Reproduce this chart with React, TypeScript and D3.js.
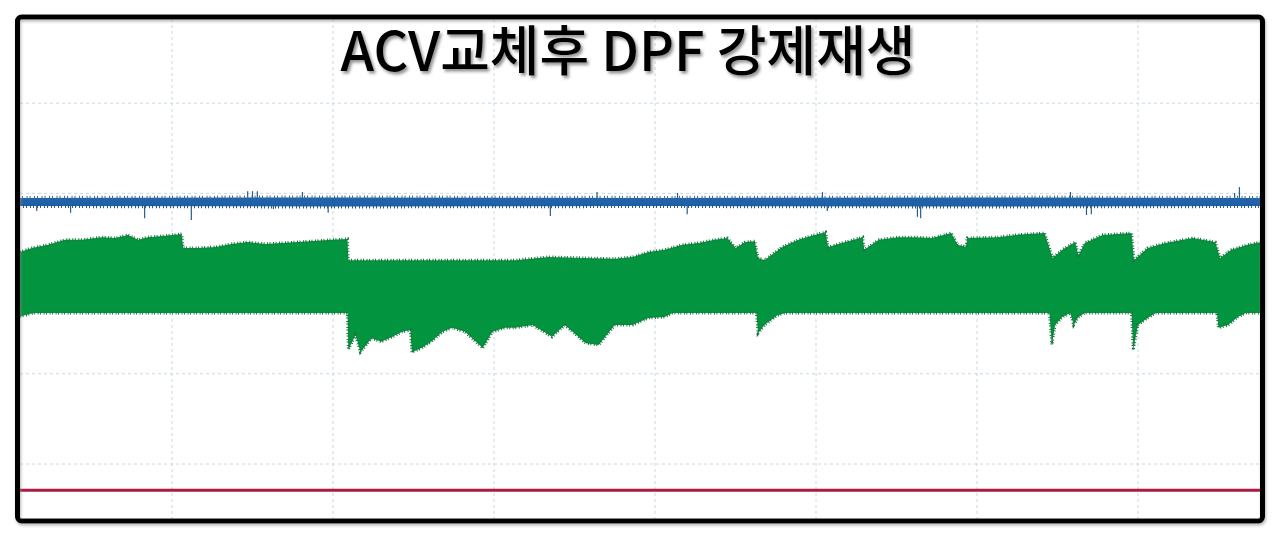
import React, { useEffect, useRef } from "react";
import * as d3 from "d3";

// time axis (minutes) and value axis gridlines
const xTicks = [0, 10, 20, 30, 40, 50, 60, 70, 80];
const yTicks = [0, 20, 40, 60, 80, 100];

const title = "ACV교체후 DPF 강제재생";

// green signal: top of the envelope [t, value]
const greenUpper: [number, number][] = [
  [0.56, 47.0], [1.3, 47.9], [2.3, 48.6], [3.35, 49.7], [4.4, 49.7], [5.65, 50.3],
  [6.46, 50.1], [7.27, 50.8], [7.9, 49.7], [8.5, 50.3], [9.57, 50.6], [10.6, 51.0],
  [10.7, 47.9], [11.6, 47.9], [12.7, 48.1], [13.7, 48.8], [14.7, 49.2], [15.8, 48.8],
  [17.8, 49.2], [19.9, 49.7], [20.9, 49.9], [20.95, 45.2], [24.2, 45.2], [27.3, 45.2],
  [31.3, 45.2], [33.4, 45.9], [35.5, 45.7], [37.5, 45.5], [38.6, 45.9], [39.6, 47.0],
  [40.6, 47.5], [41.7, 48.6], [42.7, 49.0], [43.7, 49.7], [44.5, 50.1], [45.0, 47.9],
  [45.6, 49.2], [46.2, 49.4], [46.4, 45.7], [46.8, 45.2], [47.9, 48.1], [48.9, 49.7],
  [49.9, 50.8], [50.6, 51.4], [50.75, 48.1], [51.6, 49.0], [52.9, 50.3], [53.0, 47.5],
  [53.9, 49.7], [55.1, 50.3], [56.1, 50.3], [57.2, 50.1], [58.4, 51.2], [58.8, 48.6],
  [59.3, 48.1], [59.4, 50.1], [61.3, 50.3], [62.4, 50.8], [64.2, 51.2], [64.7, 45.7],
  [65.3, 47.5], [66.1, 49.2], [66.3, 46.3], [66.7, 49.0], [67.8, 50.8], [69.6, 51.2],
  [69.75, 45.2], [70.6, 47.9], [71.7, 49.0], [73.4, 50.1], [74.8, 49.2], [75.1, 45.7],
  [75.8, 47.5], [76.8, 48.6], [77.6, 49.2],
];

// green signal: bottom of the envelope [t, value]
const greenLower: [number, number][] = [
  [0.56, 32.7], [1.2, 33.3], [1.5, 33.5], [20.9, 33.5], [20.95, 25.3], [21.4, 28.6],
  [21.7, 24.8], [22.4, 27.9], [23.0, 27.1], [23.7, 28.2], [24.3, 29.3], [24.8, 29.7],
  [24.9, 24.8], [25.5, 25.7], [26.1, 27.1], [26.8, 29.3], [27.4, 30.2], [28.2, 29.3],
  [29.3, 25.7], [29.9, 29.3], [30.7, 30.2], [31.3, 30.2], [32.4, 30.8], [33.6, 28.2],
  [34.4, 30.8], [35.7, 26.8], [36.5, 26.4], [37.5, 30.8], [38.6, 30.8], [39.6, 32.4],
  [40.6, 32.6], [41.1, 33.5], [46.3, 33.5], [46.4, 29.0], [46.8, 30.8], [47.6, 33.0],
  [48.1, 33.5], [64.5, 33.5], [64.65, 26.4], [64.85, 30.8], [65.3, 32.6], [65.8, 33.5],
  [66.0, 30.8], [66.3, 32.6], [66.7, 33.5], [69.6, 33.5], [69.7, 25.3], [70.0, 30.8],
  [70.6, 32.4], [71.1, 33.5], [74.9, 33.5], [75.0, 30.2], [75.6, 30.8], [76.2, 32.6],
  [76.7, 33.5], [77.6, 33.5],
];

// blue signal: band edges and isolated spikes
const blueUpper: [number, number][] = [[0.5, 59.0], [20, 59.1], [40, 59.0], [60, 59.1], [77.6, 59.0]];
const blueLower: [number, number][] = [[0.5, 57.2], [20, 57.1], [40, 57.2], [60, 57.1], [77.6, 57.2]];
const blueSpikes: [number, number][] = [
  [1.6, 56.1], [3.7, 55.7], [8.3, 54.5], [11.2, 54.1], [14.7, 60.5], [15.0, 60.5],
  [15.3, 60.5], [16.3, 56.5], [18.1, 60.3], [19.7, 55.7], [33.5, 55.0], [36.4, 60.3],
  [41.4, 60.1], [42.0, 55.4], [50.4, 60.3], [50.7, 56.1], [56.3, 54.8], [56.5, 54.5],
  [65.8, 60.3], [66.8, 55.2], [67.1, 55.4], [76.0, 60.1], [76.3, 61.4],
];
const blueCenter = 58.1;

// red signal
const redLine: [number, number][] = [[0.5, -5.8], [77.6, -5.8]];

const W = 1280;
const H = 539;

const App: React.FC = () => {
  const ref = useRef<SVGSVGElement | null>(null);

  useEffect(() => {
    if (!ref.current) return;
    const svg = d3.select(ref.current);
    svg.selectAll("*").remove();

    const x = d3.scaleLinear().domain([0, 80]).range([11, 11 + 80 * 16.1]);
    const y = d3.scaleLinear().domain([0, 100]).range([464, 13]);

    const inner = { x0: 20, y0: 19, x1: 1260, y1: 519 };

    const defs = svg.append("defs");
    defs.append("clipPath").attr("id", "plot-clip")
      .append("rect")
      .attr("x", inner.x0).attr("y", inner.y0)
      .attr("width", inner.x1 - inner.x0).attr("height", inner.y1 - inner.y0);
    defs.append("filter").attr("id", "title-shadow")
      .attr("x", "-5%").attr("y", "-20%").attr("width", "110%").attr("height", "150%")
      .append("feDropShadow")
      .attr("dx", 2).attr("dy", 2.5).attr("stdDeviation", 1.6)
      .attr("flood-color", "#555").attr("flood-opacity", 0.65);
    defs.append("filter").attr("id", "frame-shadow")
      .append("feDropShadow")
      .attr("dx", 1).attr("dy", 2).attr("stdDeviation", 1.5)
      .attr("flood-color", "#888").attr("flood-opacity", 0.6);

    svg.append("rect").attr("width", W).attr("height", H).attr("fill", "#fff");

    const plot = svg.append("g").attr("clip-path", "url(#plot-clip)");

    // dotted grid
    plot.selectAll("line.vgrid").data(xTicks).enter().append("line")
      .attr("x1", d => x(d)).attr("x2", d => x(d))
      .attr("y1", inner.y0).attr("y2", inner.y1)
      .attr("stroke", "#c6d8e3").attr("stroke-width", 1).attr("stroke-dasharray", "3,3");
    plot.selectAll("line.hgrid").data(yTicks).enter().append("line")
      .attr("y1", d => y(d)).attr("y2", d => y(d))
      .attr("x1", inner.x0).attr("x2", inner.x1)
      .attr("stroke", "#c6d8e3").attr("stroke-width", 1).attr("stroke-dasharray", "3,3");

    // green envelope as one polygon: top edge forward, bottom edge back
    const lineG = d3.line<[number, number]>().x(d => x(d[0])).y(d => y(d[1]));
    const outline = greenUpper.concat(greenLower.slice().reverse());
    plot.append("path").attr("d", (lineG(outline) || "") + "Z").attr("fill", "#03943f");
    // noisy fringe along the edges
    [greenUpper, greenLower].forEach(edge => {
      plot.append("path").attr("d", lineG(edge) || "")
        .attr("fill", "none").attr("stroke", "#1c7440").attr("stroke-width", 3)
        .attr("stroke-dasharray", "1,1.5,1,2.5");
    });

    // blue band
    const bandData = blueUpper.map((d, i) => ({ t: d[0], hi: d[1], lo: blueLower[i][1] }));
    const areaBand = d3.area<{ t: number; hi: number; lo: number }>()
      .x(d => x(d.t)).y0(d => y(d.lo)).y1(d => y(d.hi));
    plot.selectAll("line.spike").data(blueSpikes).enter().append("line")
      .attr("x1", d => x(d[0])).attr("x2", d => x(d[0]))
      .attr("y1", y(blueCenter)).attr("y2", d => y(d[1]))
      .attr("stroke", "#2a5c8c").attr("stroke-width", 1.2);
    plot.append("path").attr("d", areaBand(bandData) || "").attr("fill", "#1f62aa");
    [blueUpper, blueLower].forEach((edge, i) => {
      plot.append("path").attr("d", lineG(edge) || "")
        .attr("fill", "none").attr("stroke", i === 0 ? "#3a6b98" : "#225788")
        .attr("stroke-width", 4)
        .attr("stroke-dasharray", i === 0 ? "1,2,1,3.5" : "1,3,1,2");
    });

    // red line
    plot.append("path").attr("d", lineG(redLine) || "")
      .attr("fill", "none").attr("stroke", "#ad1a40").attr("stroke-width", 3);

    // frame
    svg.append("rect")
      .attr("x", 17.5).attr("y", 17).attr("width", 1245).attr("height", 504)
      .attr("rx", 4).attr("fill", "none")
      .attr("stroke", "#000").attr("stroke-width", 5)
      .attr("filter", "url(#frame-shadow)");

    // title
    svg.append("text")
      .attr("x", 628).attr("y", 71)
      .attr("text-anchor", "middle")
      .attr("font-family", "'Noto Sans CJK KR', 'Noto Sans', sans-serif")
      .attr("font-size", 54)
      .attr("font-weight", 500)
      .attr("fill", "#000")
      .attr("filter", "url(#title-shadow)")
      .text(title);
  }, []);

  return (
    <svg ref={ref} width={W} height={H} style={{ position: "absolute", left: 0, top: 0 }} />
  );
};

export default App;
